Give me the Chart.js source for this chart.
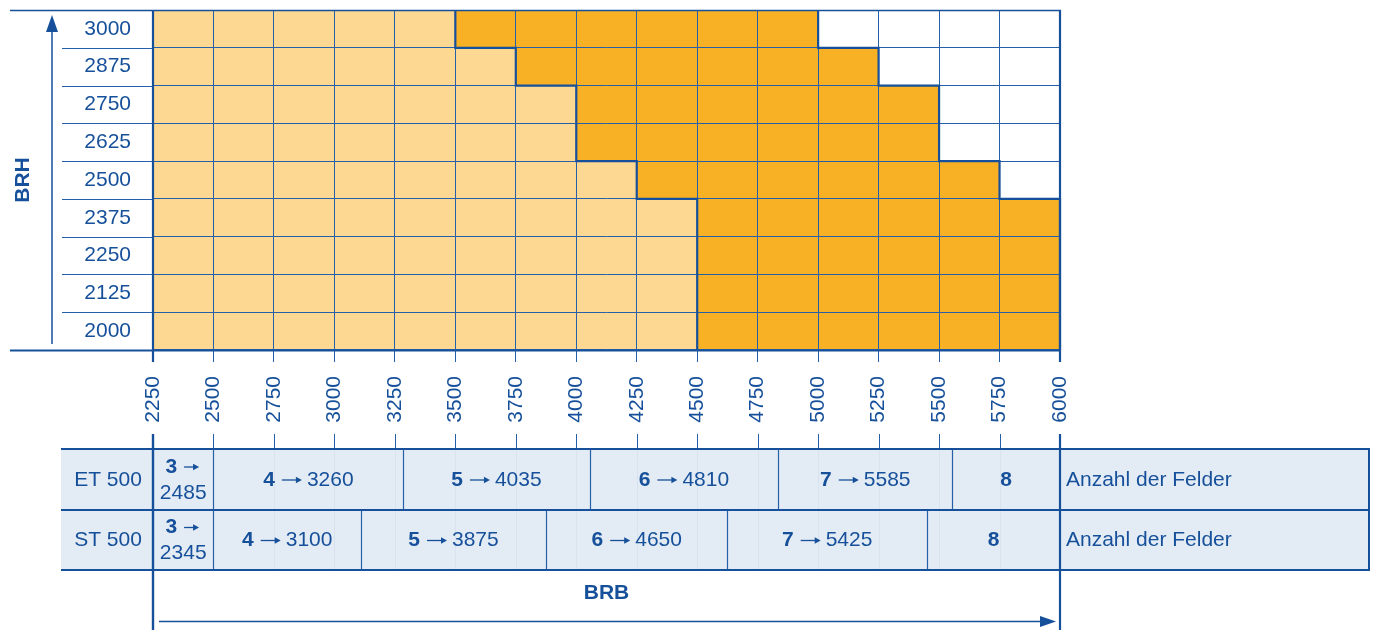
<!DOCTYPE html>
<html><head><meta charset="utf-8">
<script src="https://cdn.jsdelivr.net/npm/chart.js@4/dist/chart.umd.min.js"></script>
<style>html,body{margin:0;padding:0;background:#fff;overflow:hidden}canvas{display:block}</style>
</head><body>
<canvas id="c" width="1376" height="630"></canvas>
<script>
// ---- data ----
const rowLabels = ['3000','2875','2750','2625','2500','2375','2250','2125','2000'];
const xTicks = [2250,2500,2750,3000,3250,3500,3750,4000,4250,4500,4750,5000,5250,5500,5750,6000];
const xMin = 2250, xMax = 6000;
const darkStart = [3500,3750,4000,4000,4250,4500,4500,4500,4500];
const darkEnd   = [5000,5250,5500,5500,5750,6000,6000,6000,6000];
const tableRows = ['ET 500','ST 500'];
const fieldCounts = ['3','4','5','6','7','8'];
const etLimits = ['2485','3260','4035','4810','5585',''];
const stLimits = ['2345','3100','3875','4650','5425',''];
const etBounds = [2250,2500,3285,4055,4835,5555,6000];
const stBounds = [2250,2500,3110,3875,4625,5450,6000];
const rowNote = 'Anzahl der Felder';
const yTitle = 'BRH', xTitle = 'BRB';

// ---- style ----
const BLUE = '#16509a', GRID = '#2660a8', LIGHT = '#fcd892', DARK = '#f8b124', TBG = '#e3ebf4';
const FAM = '"Liberation Sans", Arial, Helvetica, sans-serif';
const FS = 21;

function seg(ctx, x1, y1, x2, y2, w, c) {
  ctx.beginPath(); ctx.moveTo(x1, y1); ctx.lineTo(x2, y2);
  ctx.lineWidth = w; ctx.strokeStyle = c; ctx.stroke();
}
function px(v, w) { return (w % 2 === 1) ? Math.round(v) + 0.5 : Math.round(v); }
function arrow(ctx, x, y, len) {
  seg(ctx, x, y, x + len - 4, y, 1.3, BLUE);
  ctx.beginPath(); ctx.moveTo(x + len, y); ctx.lineTo(x + len - 6, y - 3.2); ctx.lineTo(x + len - 6, y + 3.2); ctx.closePath();
  ctx.fillStyle = BLUE; ctx.fill();
}
// bold count, arrow, regular limit; centered at cx
function cellText(ctx, bold, rest, cx, cy, alen) {
  ctx.textBaseline = 'middle'; ctx.textAlign = 'left';
  ctx.font = 'bold ' + FS + 'px ' + FAM; const wb = ctx.measureText(bold).width;
  ctx.font = FS + 'px ' + FAM; const wr = rest ? ctx.measureText(rest).width : 0;
  const g1 = 7, g2 = rest ? 5 : 0;
  const aw = alen ? g1 + alen + g2 : 0;
  const x0 = cx - (wb + aw + wr) / 2;
  ctx.fillStyle = BLUE;
  ctx.font = 'bold ' + FS + 'px ' + FAM; ctx.fillText(bold, x0, cy);
  if (alen) arrow(ctx, x0 + wb + g1, cy, alen);
  if (rest) { ctx.fillStyle = BLUE; ctx.font = FS + 'px ' + FAM; ctx.fillText(rest, x0 + wb + aw, cy); }
}

const deco = {
  id: 'deco',
  afterDraw(chart) {
    const ctx = chart.ctx, a = chart.chartArea, xs = chart.scales.x, ys = chart.scales.y;
    const X = v => xs.getPixelForValue(v);
    const half = (ys.getPixelForValue(1) - ys.getPixelForValue(0)) / 2;
    const rTop = i => ys.getPixelForValue(i) - half, rBot = i => ys.getPixelForValue(i) + half;
    ctx.save();
    // label column row separators
    for (let i = 1; i < rowLabels.length; i++) seg(ctx, 62, px(rTop(i), 1), a.left, px(rTop(i), 1), 1, GRID);
    // top and bottom lines
    seg(ctx, 10, px(a.top, 1), a.right + 1, px(a.top, 1), 1.5, BLUE);
    seg(ctx, 10, a.bottom + 0.5, a.right + 1, a.bottom + 0.5, 2.2, BLUE);
    // left/right borders of plot
    seg(ctx, a.left, a.top, a.left, a.bottom + 12, 2.2, BLUE);
    seg(ctx, a.right, a.top, a.right, a.bottom + 12, 2.2, BLUE);
    // dark region outline
    ctx.beginPath();
    for (const arr of [darkStart, darkEnd]) {
      ctx.moveTo(X(arr[0]), rTop(0));
      for (let i = 0; i < arr.length; i++) {
        ctx.lineTo(X(arr[i]), rBot(i));
        if (i < arr.length - 1) ctx.lineTo(X(arr[i + 1]), rBot(i));
      }
    }
    ctx.lineWidth = 2.2; ctx.strokeStyle = BLUE; ctx.stroke();

    // BRH axis title + arrow
    ctx.fillStyle = BLUE; ctx.font = 'bold ' + FS + 'px ' + FAM;
    ctx.save(); ctx.translate(23, (a.top + a.bottom) / 2); ctx.rotate(-Math.PI / 2);
    ctx.textAlign = 'center'; ctx.textBaseline = 'middle'; ctx.fillText(yTitle, 0, 0); ctx.restore();
    seg(ctx, 52, a.bottom - 6, 52, 28, 1.5, BLUE);
    ctx.beginPath(); ctx.moveTo(52, 15); ctx.lineTo(58, 32); ctx.lineTo(46, 32); ctx.closePath(); ctx.fill();

    // table
    const tTop = 449, tMid = 510, tBot = 570, tL = 61, tR = 1370;
    for (const v of xTicks) seg(ctx, px(X(v), 1), 434, px(X(v), 1), tTop, 1, GRID);
    ctx.fillStyle = TBG; ctx.fillRect(tL, tTop, tR - tL, tBot - tTop);
    for (const v of xTicks) seg(ctx, px(X(v), 1), tTop, px(X(v), 1), tBot, 1, '#d9e3ef');
    const rows = [[etBounds, etLimits, tTop, tMid], [stBounds, stLimits, tMid, tBot]];
    rows.forEach(([b, lim, y0, y1], r) => {
      const cy = (y0 + y1) / 2 + 0.5;
      ctx.fillStyle = BLUE; ctx.font = FS + 'px ' + FAM; ctx.textAlign = 'center'; ctx.textBaseline = 'middle';
      ctx.fillText(tableRows[r], (tL + a.left) / 2 + 1, cy);
      ctx.textAlign = 'left'; ctx.fillText(rowNote, a.right + 6, cy);
      for (let k = 0; k < fieldCounts.length; k++) {
        const x0 = X(b[k]), x1 = X(b[k + 1]), cx = (x0 + x1) / 2;
        if (k > 0) seg(ctx, px(x0, 1), y0, px(x0, 1), y1, 1.2, GRID);
        if (k === 0) {
          cellText(ctx, fieldCounts[k], '', cx - 1, cy - 13, 15);
          ctx.fillStyle = BLUE; ctx.font = FS + 'px ' + FAM; ctx.textAlign = 'center'; ctx.textBaseline = 'middle';
          ctx.fillText(lim[k], cx, cy + 13);
        } else if (lim[k]) {
          cellText(ctx, fieldCounts[k], lim[k], cx, cy, 20);
        } else {
          cellText(ctx, fieldCounts[k], '', cx, cy, 0);
        }
      }
    });
    for (const y of [tTop, tMid, tBot]) seg(ctx, tL, y, tR, y, 2.2, BLUE);
    seg(ctx, tR - 1, tTop, tR - 1, tBot, 2, BLUE);
    seg(ctx, a.left, 434, a.left, 630, 2.4, BLUE);
    seg(ctx, a.right, 434, a.right, 630, 2.2, BLUE);

    // BRB title + arrow
    ctx.fillStyle = BLUE; ctx.font = 'bold ' + FS + 'px ' + FAM; ctx.textAlign = 'center'; ctx.textBaseline = 'middle';
    ctx.fillText(xTitle, (a.left + a.right) / 2, 593);
    seg(ctx, a.left + 6, 621.5, a.right - 14, 621.5, 1.5, BLUE);
    ctx.beginPath(); ctx.moveTo(a.right - 4, 621.5); ctx.lineTo(a.right - 20, 616); ctx.lineTo(a.right - 20, 627); ctx.closePath(); ctx.fill();
    ctx.restore();
  }
};

new Chart(document.getElementById('c'), {
  type: 'bar',
  data: {
    labels: rowLabels,
    datasets: [
      { label: 'light', data: rowLabels.map((_, i) => [xMin, darkStart[i]]), backgroundColor: LIGHT },
      { label: 'dark', data: rowLabels.map((_, i) => [darkStart[i], darkEnd[i]]), backgroundColor: DARK }
    ]
  },
  options: {
    indexAxis: 'y', responsive: false, animation: false, devicePixelRatio: 1,
    datasets: { bar: { grouped: false, barPercentage: 1, categoryPercentage: 1, borderWidth: 0, borderSkipped: false } },
    layout: { padding: { left: 62, top: 10, right: 316, bottom: 190 } },
    plugins: { legend: { display: false }, tooltip: { enabled: false } },
    scales: {
      x: {
        type: 'linear', position: 'bottom', min: xMin, max: xMax,
        afterBuildTicks: s => { s.ticks = xTicks.map(v => ({ value: v })); },
        ticks: { autoSkip: false, minRotation: 90, maxRotation: 90, padding: 14, color: BLUE,
                 font: { family: FAM, size: FS }, callback: v => String(v) },
        grid: { color: GRID, lineWidth: 1, tickLength: 12, z: 1 },
        border: { display: false },
        afterFit: s => { s.height = 90; s.paddingLeft = 0; s.paddingRight = 0; }
      },
      y: {
        type: 'category', position: 'left', offset: true,
        ticks: { crossAlign: 'center', padding: 22, color: BLUE, font: { family: FAM, size: FS } },
        grid: { color: GRID, lineWidth: 1, drawTicks: false, offset: true, z: 1 },
        border: { display: false },
        afterFit: s => { s.width = 91; s.paddingTop = 0; s.paddingBottom = 0; }
      }
    }
  },
  plugins: [deco]
});
</script>
</body></html>
